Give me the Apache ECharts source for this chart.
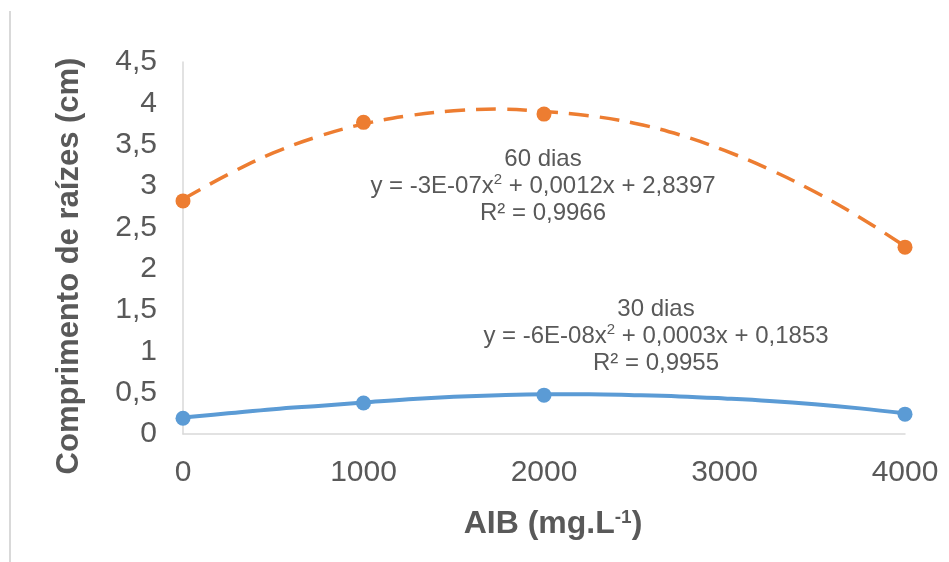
<!DOCTYPE html>
<html>
<head>
<meta charset="utf-8">
<title>Comprimento de raízes</title>
<script src="https://cdn.jsdelivr.net/npm/echarts@6/dist/echarts.min.js"></script>
<style>
  html, body { margin: 0; padding: 0; background: #ffffff; }
  #chart { width: 949px; height: 562px; }
</style>
</head>
<body>
<div id="chart"></div>
<script>
// AIB doses (mg/L) and measured root length (cm)
const doses = [0, 1000, 2000, 4000];
const comp30 = [0.19, 0.375, 0.47, 0.24];
const comp60 = [2.82, 3.77, 3.87, 2.26];

// Polynomial trendlines (order 2), sampled along the dose range
const trendX = [0, 250, 500, 750, 1000, 1250, 1500, 1750, 2000, 2250, 2500, 2750, 3000, 3250, 3500, 3750, 4000];
const trend30 = [0.20, 0.25, 0.30, 0.34, 0.38, 0.42, 0.45, 0.47, 0.48, 0.48, 0.47, 0.455, 0.43, 0.40, 0.36, 0.31, 0.25];
const trend60 = [2.84, 3.14, 3.40, 3.60, 3.75, 3.85, 3.91, 3.93, 3.90, 3.85, 3.76, 3.62, 3.43, 3.20, 2.93, 2.62, 2.27];

const xTicks = [0, 1000, 2000, 3000, 4000];
const yTicks = [0, 0.5, 1, 1.5, 2, 2.5, 3, 3.5, 4, 4.5];

const label60 = ['60 dias', 'y = -3E-07x', '2', ' + 0,0012x + 2,8397', 'R² = 0,9966'];
const label30 = ['30 dias', 'y = -6E-08x', '2', ' + 0,0003x + 0,1853', 'R² = 0,9955'];

const BLUE = '#5B9BD5';
const ORANGE = '#ED7D31';
const TEXT = '#595959';
const FONT = '"Liberation Sans", Arial, sans-serif';

const pairs = (xs, ys) => xs.map((x, i) => [x, ys[i]]);

const chart = echarts.init(document.getElementById('chart'), null, { renderer: 'canvas' });

function eqText(l) {
  return '{t|' + l[0] + '}\n{t|' + l[1] + '}{s|' + l[2] + '}{t|' + l[3] + '}\n{t|' + l[4] + '}';
}
const eqRich = {
  t: { fontSize: 24, fontFamily: FONT, fill: TEXT, lineHeight: 27 },
  s: { fontSize: 15, fontFamily: FONT, fill: TEXT, lineHeight: 27, verticalAlign: 'top', padding: [0, 0, 8, 0] }
};

chart.setOption({
  animation: false,
  backgroundColor: '#ffffff',
  grid: { left: 183, right: 44, top: 62, bottom: 128, containLabel: false },
  xAxis: {
    type: 'value',
    min: xTicks[0],
    max: xTicks[xTicks.length - 1],
    interval: xTicks[1] - xTicks[0],
    name: 'AIB (mg.L{sup|-1})',
    nameLocation: 'middle',
    nameGap: 74,
    nameTextStyle: {
      fontSize: 32, fontWeight: 'bold', color: TEXT, fontFamily: FONT,
      padding: [0, 0, 0, 18],
      rich: { sup: { fontSize: 19, fontWeight: 'bold', color: TEXT, fontFamily: FONT, verticalAlign: 'top', padding: [0, 0, 12, 0] } }
    },
    axisLine: { lineStyle: { color: '#d9d9d9', width: 1.5 } },
    axisTick: { show: false },
    splitLine: { show: false },
    axisLabel: { fontSize: 30, color: TEXT, fontFamily: FONT, margin: 24, formatter: v => String(v) }
  },
  yAxis: {
    type: 'value',
    min: yTicks[0],
    max: yTicks[yTicks.length - 1],
    interval: yTicks[1] - yTicks[0],
    name: 'Comprimento de raízes (cm)',
    nameLocation: 'middle',
    nameGap: 98,
    nameTextStyle: { fontSize: 31, fontWeight: 'bold', color: TEXT, fontFamily: FONT, padding: [0, 36, 0, 0] },
    axisLine: { show: true, lineStyle: { color: '#d9d9d9', width: 1.5 } },
    axisTick: { show: false },
    splitLine: { show: false },
    axisLabel: {
      fontSize: 30, color: TEXT, fontFamily: FONT, margin: 26,
      formatter: v => String(v).replace('.', ',')
    }
  },
  series: [
    {
      name: '30 dias (tendência)',
      type: 'line',
      data: pairs(trendX, trend30),
      smooth: 0.4,
      showSymbol: false,
      lineStyle: { color: BLUE, width: 4 },
      z: 2
    },
    {
      name: '60 dias (tendência)',
      type: 'line',
      data: pairs(trendX, trend60),
      smooth: 0.4,
      showSymbol: false,
      lineStyle: { color: ORANGE, width: 3.5, type: [20, 11] },
      z: 2
    },
    {
      name: '30 dias',
      type: 'scatter',
      data: pairs(doses, comp30),
      symbolSize: 15,
      itemStyle: { color: BLUE, opacity: 1 },
      z: 3
    },
    {
      name: '60 dias',
      type: 'scatter',
      data: pairs(doses, comp60),
      symbolSize: 15,
      itemStyle: { color: ORANGE, opacity: 1 },
      z: 3
    }
  ],
  graphic: [
    {
      type: 'line',
      shape: { x1: 10, y1: 11, x2: 10, y2: 562 },
      style: { stroke: '#d9d9d9', lineWidth: 2 }
    },
    {
      type: 'text',
      x: 543, y: 186,
      style: { text: eqText(label60), rich: eqRich, align: 'center', verticalAlign: 'middle', fontSize: 24, fontFamily: FONT, fill: TEXT }
    },
    {
      type: 'text',
      x: 656, y: 336,
      style: { text: eqText(label30), rich: eqRich, align: 'center', verticalAlign: 'middle', fontSize: 24, fontFamily: FONT, fill: TEXT }
    }
  ]
});
</script>
</body>
</html>
